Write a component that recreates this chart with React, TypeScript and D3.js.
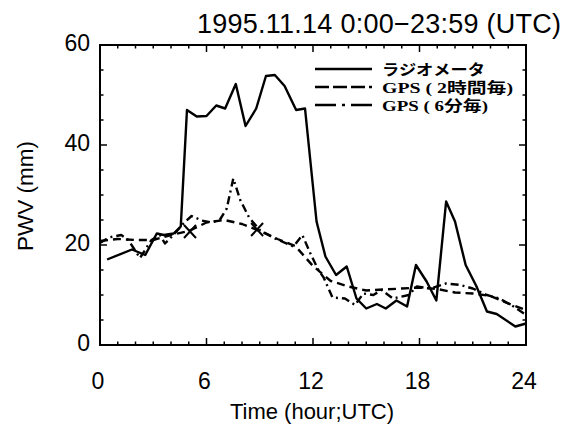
import React from 'react';
import * as d3 from 'd3';

// Radiometer PWV (solid)
const radioHours = [0.4, 1.8, 2.55, 3.2, 3.6, 4.15, 4.55, 4.9, 5.45, 6.0, 6.55, 7.05, 7.65, 8.2, 8.8, 9.35, 9.85, 10.4, 11.05, 11.55, 12.2, 12.7, 13.3, 13.9, 14.45, 15.0, 15.6, 16.1, 16.7, 17.3, 17.8, 18.4, 18.95, 19.5, 20.0, 20.6, 21.2, 21.8, 22.35, 23.4, 24.0];
const radioPwv = [17.1, 19.1, 18.0, 22.3, 22.0, 22.3, 23.7, 47.0, 45.7, 45.8, 47.9, 47.3, 52.2, 43.8, 47.3, 53.8, 54.0, 51.8, 47.0, 47.3, 24.7, 17.7, 14.0, 15.7, 9.3, 7.3, 8.2, 7.3, 8.9, 7.7, 16.0, 12.7, 8.9, 28.7, 24.7, 16.0, 11.8, 6.7, 6.2, 3.7, 4.3];

// GPS, 2-hourly solution (dashed)
const gps2hHours = [0, 1, 2, 3, 4, 5, 6, 7, 8, 9, 10, 11, 12, 13, 14, 15, 16, 17, 18, 19, 20, 21, 22, 23, 24];
const gps2hPwv = [20.8, 21.2, 21.0, 21.0, 22.0, 22.8, 24.5, 25.0, 24.2, 22.8, 21.2, 19.8, 15.8, 12.8, 11.7, 10.9, 11.1, 11.3, 11.5, 11.2, 10.5, 10.3, 9.8, 8.3, 7.0];

// GPS, 6-minute solution (dash-dot)
const gps6mHours = [0, 0.5, 1.2, 1.6, 2.25, 2.9, 3.38, 3.66, 4.13, 4.7, 5.16, 5.73, 6.29, 6.76, 7.14, 7.51, 7.9, 8.4, 9.0, 9.86, 10.9, 11.4, 11.83, 12.3, 12.6, 13.1, 13.8, 14.37, 14.83, 15.4, 15.87, 16.5, 17.4, 17.84, 18.6, 19.5, 20.3, 21.0, 21.8, 22.5, 23.3, 24];
const gps6mPwv = [20.4, 21.5, 22.0, 21.0, 17.4, 21.0, 22.0, 20.3, 22.0, 24.3, 25.8, 24.9, 24.5, 25.1, 27.3, 33.3, 29.0, 25.5, 23.0, 21.3, 19.7, 22.0, 18.5, 15.0, 13.5, 9.5, 9.3, 8.0, 10.3, 10.0, 11.0, 9.3, 10.0, 11.7, 11.3, 12.3, 12.0, 11.3, 10.0, 9.3, 7.7, 6.0];

// X markers on the 2-hourly GPS line
const markHours = [5.07, 8.85];
const markPwv = [22.7, 23.1];

const xLabels = [0, 6, 12, 18, 24];
const yLabels = [0, 20, 40, 60];
const legendNames = ['ラジオメータ', 'GPS ( 2時間毎)', 'GPS ( 6分毎)'];
const legendWidths = [103, 131, 106];
const legendDash = ['none', '14,4', '21,6,3,6'];

const plotDash = ['none', '8,5', '8,4,2,4'];

export default function App() {
  const left = 100, right = 526, top = 45, bottom = 345;
  const x = d3.scaleLinear().domain([0, 24]).range([left, right]);
  const y = d3.scaleLinear().domain([0, 60]).range([bottom, top]);

  const line = d3.line<[number, number]>().x(d => x(d[0])).y(d => y(d[1]));
  const series = [
    radioHours.map((h, i) => [h, radioPwv[i]] as [number, number]),
    gps2hHours.map((h, i) => [h, gps2hPwv[i]] as [number, number]),
    gps6mHours.map((h, i) => [h, gps6mPwv[i]] as [number, number]),
  ];

  const hourTicks = d3.range(1, 24);
  const pwvTicks = d3.range(5, 60, 5);
  const sans = '"Liberation Sans", Arial, sans-serif';

  return (
    <svg width={567} height={427} style={{ position: 'absolute', left: 0, top: 0, background: '#fff' }}>
      <text x={197} y={33} fontFamily={sans} fontSize={27} fill="#000"
        textLength={364} lengthAdjust="spacing">
        1995.11.14 0:00−23:59 (UTC)
      </text>

      {/* data lines */}
      {series.map((s, i) => (
        <path key={i} d={line(s) || ''} fill="none" stroke="#000" strokeWidth={2.4}
          strokeDasharray={plotDash[i]} strokeLinejoin="round" />
      ))}
      {markHours.map((h, i) => (
        <g key={i} stroke="#000" strokeWidth={2}>
          <line x1={x(h) - 6} y1={y(markPwv[i]) - 6.5} x2={x(h) + 6} y2={y(markPwv[i]) + 6.5} />
          <line x1={x(h) - 6} y1={y(markPwv[i]) + 6.5} x2={x(h) + 6} y2={y(markPwv[i]) - 6.5} />
        </g>
      ))}

      {/* frame and ticks */}
      <rect x={left} y={top} width={right - left} height={bottom - top} fill="none" stroke="#000" strokeWidth={2} />
      <g stroke="#000" strokeWidth={1.5}>
        {hourTicks.map(h => {
          const len = h % 6 === 0 ? 7 : 3.5;
          return (
            <g key={h}>
              <line x1={x(h)} x2={x(h)} y1={bottom} y2={bottom - len} />
              <line x1={x(h)} x2={x(h)} y1={top} y2={top + len} />
            </g>
          );
        })}
        {pwvTicks.map(v => {
          const len = v % 20 === 0 ? 7 : 3.5;
          return (
            <g key={v}>
              <line x1={left} x2={left + len} y1={y(v)} y2={y(v)} />
              <line x1={right} x2={right - len} y1={y(v)} y2={y(v)} />
            </g>
          );
        })}
      </g>

      {/* tick labels */}
      {xLabels.map(h => (
        <text key={h} x={x(h) - 2} y={389} textAnchor="middle" fontFamily={sans} fontSize={23}>{h}</text>
      ))}
      {yLabels.map(v => (
        <text key={v} x={left - 10} y={y(v) + 6} textAnchor="end" fontFamily={sans} fontSize={23}>{v}</text>
      ))}
      <text x={312} y={419} textAnchor="middle" fontFamily={sans} fontSize={22}>Time (hour;UTC)</text>
      <text transform="translate(33,196) rotate(-90)" textAnchor="middle" fontFamily={sans} fontSize={22.5}>PWV (mm)</text>

      {/* legend */}
      {legendNames.map((name, i) => {
        const ly = 69 + i * 18;
        return (
          <g key={name}>
            <line x1={315} x2={372} y1={ly} y2={ly} stroke="#000" strokeWidth={2.4} strokeDasharray={legendDash[i]} />
            <text x={382} y={ly + 5.5} fontFamily='"Liberation Serif", "Noto Sans CJK JP", serif' fontWeight="bold"
              fontSize={15} textLength={legendWidths[i]} lengthAdjust="spacingAndGlyphs">{name}</text>
          </g>
        );
      })}
    </svg>
  );
}
